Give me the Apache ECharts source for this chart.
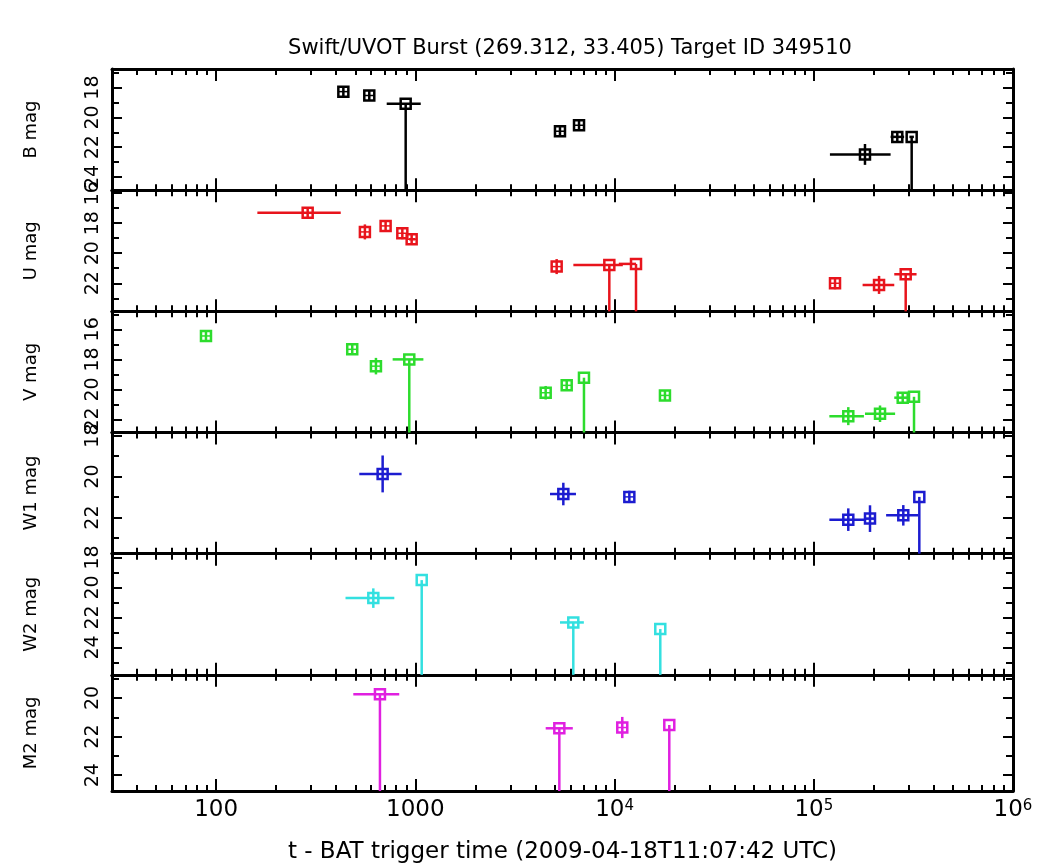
<!DOCTYPE html>
<html>
<head>
<meta charset="utf-8">
<title>Swift/UVOT Burst</title>
<script src="https://cdn.jsdelivr.net/npm/echarts@6/dist/echarts.min.js"></script>
<style>
  html, body { margin: 0; padding: 0; background: #fff; }
  #chart { width: 1044px; height: 865px; }
</style>
</head>
<body>
<div id="chart"></div>
<script>
// one row per exposure: [t, tLow, tHigh, mag, magErr, upperLimit]
const bData = [
  [435, 435, 435, 18.27, 0.12, 0],
  [587, 587, 587, 18.53, 0.2, 0],
  [894, 718, 1064, 19.09, 0, 1],
  [5320, 5320, 5320, 20.93, 0.3, 0],
  [6630, 6630, 6630, 20.53, 0.25, 0],
  [180700, 120500, 243000, 22.49, 0.7, 0],
  [262500, 243000, 284000, 21.31, 0.35, 0],
  [310000, 302000, 318000, 21.31, 0, 1]
]
const uData = [
  [288, 161, 422, 17.31, 0.1, 0],
  [558, 558, 558, 18.58, 0.5, 0],
  [709, 709, 709, 18.18, 0.25, 0],
  [860, 860, 860, 18.67, 0.4, 0],
  [958, 930, 1000, 19.07, 0.2, 0],
  [5120, 5120, 5120, 20.89, 0.5, 0],
  [9410, 6210, 11000, 20.78, 0, 1],
  [12810, 10500, 12810, 20.71, 0, 1],
  [127800, 127800, 127800, 22.0, 0.4, 0],
  [212600, 175800, 253500, 22.11, 0.6, 0],
  [289300, 253500, 328000, 21.4, 0, 1]
]
const vData = [
  [88.9, 88.9, 88.9, 16.44, 0.1, 0],
  [482, 482, 482, 17.33, 0.1, 0],
  [634, 634, 634, 18.45, 0.55, 0],
  [932, 769, 1097, 18.0, 0, 1],
  [4510, 4510, 4510, 20.22, 0.45, 0],
  [5750, 5750, 5750, 19.73, 0.35, 0],
  [7020, 7020, 7020, 19.22, 0, 1],
  [17900, 17900, 17900, 20.4, 0.1, 0],
  [149000, 119700, 178500, 21.78, 0.6, 0],
  [215000, 180700, 256000, 21.62, 0.55, 0],
  [279500, 253500, 298000, 20.55, 0.35, 0],
  [318500, 318500, 318500, 20.49, 0, 1]
]
const w1Data = [
  [685, 523, 853, 19.87, 0.9, 0],
  [5530, 4740, 6400, 20.85, 0.55, 0],
  [11860, 11860, 11860, 20.99, 0.3, 0],
  [149000, 119700, 182000, 22.1, 0.55, 0],
  [191500, 182000, 204000, 22.05, 0.65, 0],
  [281400, 230700, 335000, 21.89, 0.5, 0],
  [338600, 338600, 338600, 20.99, 0, 1]
]
const w2Data = [
  [615, 446, 784, 20.71, 0.65, 0],
  [1076, 1076, 1076, 19.51, 0, 1],
  [6205, 5320, 7010, 22.33, 0, 1],
  [16960, 16960, 16960, 22.77, 0, 1]
]
const m2Data = [
  [664, 488, 830, 19.8, 0, 1],
  [5280, 4510, 6170, 21.57, 0, 1],
  [10930, 10930, 10930, 21.53, 0.55, 0],
  [18820, 18820, 18820, 21.4, 0, 1]
]

const bandNames = ['B mag', 'U mag', 'V mag', 'W1 mag', 'W2 mag', 'M2 mag']
const bandData = [bData, uData, vData, w1Data, w2Data, m2Data]
const bandColors = ['#000000', '#e8141c', '#2ddc2d', '#1c1cd0', '#33e0e0', '#e020e0']

// magnitude range of each panel, bright end first
const yRanges = [[16.75, 24.89], [15.8, 23.87], [14.8, 22.87], [17.85, 23.76], [17.75, 25.82], [18.8, 24.82]]
const yLabelTicks = [[18, 20, 22, 24], [16, 18, 20, 22], [16, 18, 20, 22], [18, 20, 22], [18, 20, 22, 24], [20, 22, 24]]
const yMinorTicks = [[17, 19, 21, 23], [17, 19, 21, 23], [15, 17, 19, 21], [19, 21, 23], [19, 21, 23, 25], [19, 21, 23]]

const xRange = [30, 1e6]
const xMajorTicks = [100, 1000, 1e4, 1e5, 1e6]
const xMinorTicks = [40, 50, 60, 70, 80, 90, 200, 300, 400, 500, 600, 700, 800, 900,
  2000, 3000, 4000, 5000, 6000, 7000, 8000, 9000, 2e4, 3e4, 4e4, 5e4, 6e4, 7e4, 8e4, 9e4,
  2e5, 3e5, 4e5, 5e5, 6e5, 7e5, 8e5, 9e5]

const FONT = 'DejaVu Sans'
const plotTop = 69
const panelH = 121.17

const chart = echarts.init(document.getElementById('chart'))

const grids = []
const xAxes = []
const yAxes = []
const series = []

function xAxisFor (gi, position, ticks, len, line, labels) {
  return {
    type: 'log',
    gridIndex: gi,
    position: position,
    min: xRange[0],
    max: xRange[1],
    axisLine: { show: line, lineStyle: { color: '#000', width: 3 } },
    axisTick: { show: true, inside: true, length: len, customValues: ticks, lineStyle: { color: '#000', width: 2 } },
    axisLabel: labels ? {
      show: true,
      customValues: xMajorTicks,
      margin: 8,
      color: '#000',
      fontFamily: FONT,
      fontSize: 23,
      formatter (v) {
        if (v >= 1e4) return '10{sup|' + Math.round(Math.log10(v)) + '}'
        return String(Math.round(v))
      },
      rich: {
        sup: { fontFamily: FONT, fontSize: 15, verticalAlign: 'top', lineHeight: 12, color: '#000' }
      }
    } : { show: false },
    splitLine: { show: false },
    name: labels ? 't - BAT trigger time (2009-04-18T11:07:42 UTC)' : '',
    nameLocation: 'middle',
    nameGap: 50,
    nameTextStyle: { color: '#000', fontFamily: FONT, fontSize: 23 }
  }
}

function yAxisFor (gi, position, ticks, len, line, labels) {
  return {
    type: 'value',
    gridIndex: gi,
    position: position,
    inverse: true,
    min: yRanges[gi][0],
    max: yRanges[gi][1],
    axisLine: { show: line, lineStyle: { color: '#000', width: 3 } },
    axisTick: { show: true, inside: true, length: len, customValues: ticks, lineStyle: { color: '#000', width: 2 } },
    axisLabel: labels ? {
      show: true,
      customValues: yLabelTicks[gi],
      rotate: 90,
      margin: 9,
      color: '#000',
      fontFamily: FONT,
      fontSize: 19
    } : { show: false },
    splitLine: { show: false },
    name: labels ? bandNames[gi] : '',
    nameLocation: 'middle',
    nameRotate: 90,
    nameGap: 72,
    nameTextStyle: { color: '#000', fontFamily: FONT, fontSize: 18 }
  }
}

function makeRenderer (color) {
  return function (params, api) {
    const t = api.value(0)
    const tLo = api.value(1)
    const tHi = api.value(2)
    const m = api.value(3)
    const e = api.value(4)
    const ul = api.value(5)
    const p = api.coord([t, m])
    const style = { stroke: color, lineWidth: 2.5 }
    const kids = []
    if (tHi > tLo) {
      const a = api.coord([tLo, m])
      const b = api.coord([tHi, m])
      kids.push({ type: 'line', shape: { x1: a[0], y1: a[1], x2: b[0], y2: b[1] }, style })
    }
    if (ul) {
      // upper limit: line runs down to the bottom of the panel
      const bottom = params.coordSys.y + params.coordSys.height
      kids.push({ type: 'line', shape: { x1: p[0], y1: p[1], x2: p[0], y2: bottom }, style })
    } else {
      const a = api.coord([t, m - e])
      const b = api.coord([t, m + e])
      kids.push({ type: 'line', shape: { x1: a[0], y1: Math.min(a[1], p[1] - 5), x2: b[0], y2: Math.max(b[1], p[1] + 5) }, style })
      kids.push({ type: 'line', shape: { x1: p[0] - 5, y1: p[1], x2: p[0] + 5, y2: p[1] }, style: { stroke: color, lineWidth: 1.5 } })
    }
    kids.push({
      type: 'rect',
      shape: { x: p[0] - 5, y: p[1] - 5, width: 10, height: 10 },
      style: { stroke: color, fill: 'none', lineWidth: 2.5 }
    })
    return { type: 'group', children: kids }
  }
}

bandNames.forEach((name, i) => {
  grids.push({ left: 112, right: 31, top: plotTop + i * panelH, height: panelH })
  const last = i === bandNames.length - 1
  xAxes.push(xAxisFor(i, 'bottom', xMajorTicks, 12, true, last))
  xAxes.push(xAxisFor(i, 'bottom', xMinorTicks, 6, false, false))
  xAxes.push(xAxisFor(i, 'top', xMajorTicks, 12, true, false))
  xAxes.push(xAxisFor(i, 'top', xMinorTicks, 6, false, false))
  yAxes.push(yAxisFor(i, 'left', yLabelTicks[i], 10, true, true))
  yAxes.push(yAxisFor(i, 'left', yMinorTicks[i], 7, false, false))
  yAxes.push(yAxisFor(i, 'right', yLabelTicks[i], 10, true, false))
  yAxes.push(yAxisFor(i, 'right', yMinorTicks[i], 7, false, false))
  series.push({
    type: 'custom',
    name: name,
    xAxisIndex: i * 4,
    yAxisIndex: i * 4,
    renderItem: makeRenderer(bandColors[i]),
    encode: { x: [0, 1, 2], y: 3 },
    data: bandData[i],
    animation: false
  })
})

chart.setOption({
  backgroundColor: '#fff',
  animation: false,
  title: {
    text: 'Swift/UVOT Burst (269.312, 33.405) Target ID 349510',
    left: 565,
    top: 33,
    textAlign: 'center',
    textStyle: { color: '#000', fontFamily: FONT, fontSize: 21, fontWeight: 'normal' }
  },
  grid: grids,
  xAxis: xAxes,
  yAxis: yAxes,
  series: series
})
</script>
</body>
</html>
